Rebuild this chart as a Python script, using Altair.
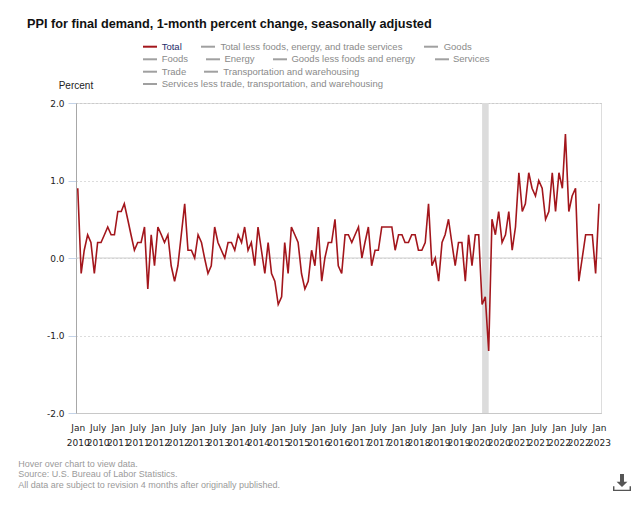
import altair as alt
import pandas as pd

# ---- data -------------------------------------------------------------
years = list(range(2010, 2024))
total_pct = [
    # 2010
    0.9, -0.2, 0.1, 0.3, 0.2, -0.2, 0.2, 0.2, 0.3, 0.4, 0.3, 0.3,
    # 2011
    0.6, 0.6, 0.7, 0.5, 0.3, 0.1, 0.2, 0.2, 0.4, -0.4, 0.3, -0.1,
    # 2012
    0.4, 0.3, 0.2, 0.3, -0.1, -0.3, -0.1, 0.3, 0.7, 0.1, 0.1, 0.0,
    # 2013
    0.3, 0.2, 0.0, -0.2, -0.1, 0.4, 0.2, 0.1, 0.0, 0.2, 0.2, 0.1,
    # 2014
    0.3, 0.2, 0.4, 0.1, 0.2, -0.1, 0.4, 0.1, -0.2, 0.2, -0.2, -0.3,
    # 2015
    -0.6, -0.5, 0.2, -0.2, 0.4, 0.3, 0.2, -0.2, -0.4, -0.3, 0.1, -0.1,
    # 2016
    0.4, -0.3, 0.0, 0.2, 0.2, 0.5, -0.1, -0.2, 0.3, 0.3, 0.2, 0.3,
    # 2017
    0.4, 0.0, 0.2, 0.4, -0.1, 0.1, 0.1, 0.4, 0.4, 0.4, 0.4, 0.1,
    # 2018
    0.3, 0.3, 0.2, 0.2, 0.3, 0.3, 0.1, 0.1, 0.2, 0.7, -0.1, 0.0,
    # 2019
    -0.3, 0.2, 0.3, 0.5, 0.2, -0.1, 0.2, 0.2, -0.3, 0.3, -0.1, 0.3,
    # 2020
    0.3, -0.6, -0.5, -1.2, 0.5, 0.3, 0.6, 0.2, 0.3, 0.6, 0.1, 0.4,
    # 2021
    1.1, 0.6, 0.7, 1.1, 0.9, 0.8, 1.0, 0.9, 0.5, 0.6, 1.1, 0.6,
    # 2022
    1.1, 0.9, 1.6, 0.6, 0.8, 0.9, -0.3, 0.0, 0.3, 0.3, 0.3, -0.2,
    # 2023
    0.7,
]
months = [f"{y}-{m:02d}-01T00:00:00" for y in years for m in range(1, 13)][: len(total_pct)]

recession_start = ["2020-02-01T00:00:00"]
recession_end = ["2020-04-01T00:00:00"]

title_text = "PPI for final demand, 1-month percent change, seasonally adjusted"
legend_labels = [
    "Total",
    "Total less foods, energy, and trade services",
    "Goods",
    "Foods",
    "Energy",
    "Goods less foods and energy",
    "Services",
    "Trade",
    "Transportation and warehousing",
    "Services less trade, transportation, and warehousing",
]
footer_lines = [
    "Hover over chart to view data.",
    "Source: U.S. Bureau of Labor Statistics.",
    "All data are subject to revision 4 months after originally published.",
]
y_ticks = [-2, -1, 0, 1, 2]

# ---- layout (pixel positions, relative to plot area) -------------------
W, H = 525, 310
LEFT, TOP = 68, 95
legend_pos = [  # (line x0, text x, y)
    (67, 85.7, -56.3), (125, 144.4, -56.3), (348, 367.7, -56.3),
    (67, 85.7, -43.7), (130, 148.5, -43.7), (197, 215.4, -43.7), (359, 377, -43.7),
    (67, 85.7, -31.3), (128, 147.3, -31.3),
    (67, 85.7, -19.0),
]

df = pd.DataFrame({"date": months, "value": total_pct})
band = pd.DataFrame({"start": recession_start, "end": recession_end})
one = pd.DataFrame({"k": [0]})

x_scale = alt.Scale(
    domain=[alt.DateTime(year=2009, month=12, date=16), alt.DateTime(year=2023, month=1, date=19)]
)
y_scale = alt.Scale(domain=[-2, 2], nice=False, zero=False)

x_vals = [alt.DateTime(year=y, month=m, date=1) for y in years for m in (1, 7)][:-1]

x_axis = alt.Axis(
    values=x_vals,
    labelExpr="[month(datum.value) == 0 ? 'Jan' : 'July', year(datum.value) + '']",
    labelOverlap=False, labelFlush=False, labelBound=False,
    labelFont="DejaVu Sans", labelFontSize=9, labelColor="#222",
    labelLineHeight=15.5, labelPadding=10, labelAngle=0,
    ticks=False, grid=False, domainColor="#c8c8c8", title=None,
)
y_axis = alt.Axis(
    values=y_ticks,
    labelExpr="(datum.value < 0 ? '-' : '') + format(abs(datum.value), '.1f')",
    labelFont="DejaVu Sans", labelFontSize=9, labelColor="#222", labelPadding=4,
    tickColor="#c4d3e8", tickSize=8, domainColor="#a8a8a8",
    grid=True, gridDash=[1, 3], gridColor="#b8b8b8", title=None,
)

band_layer = alt.Chart(band).mark_rect(color="#dcdcdc").encode(
    x=alt.X("start:T", scale=x_scale, axis=x_axis),
    x2="end:T",
    y=alt.value(0), y2=alt.value(H),
)
zero_layer = alt.Chart(one).mark_rule(color="#cccccc", strokeWidth=1).encode(
    y=alt.datum(0, scale=y_scale, axis=y_axis)
)
line_layer = alt.Chart(df).mark_line(color="#a3161c", strokeWidth=1.6).encode(
    x=alt.X("date:T", scale=x_scale, axis=x_axis),
    y=alt.Y("value:Q", scale=y_scale, axis=y_axis),
)

layers = [band_layer, zero_layer, line_layer]

# title
layers.append(alt.Chart(one).mark_text(
    text=title_text, align="left", baseline="middle", font="Liberation Sans",
    fontSize=12.7, fontWeight="bold", color="#111"
).encode(x=alt.value(-49), y=alt.value(-79)))

# legend
for i, (lab, (lx, tx, ly)) in enumerate(zip(legend_labels, legend_pos)):
    col = "#a3161c" if i == 0 else "#a0a0a0"
    tcol = "#1f2d6b" if i == 0 else "#8a8a8a"
    layers.append(alt.Chart(one).mark_rule(color=col, strokeWidth=2).encode(
        x=alt.value(lx), x2=alt.value(lx + 14), y=alt.value(ly)))
    layers.append(alt.Chart(one).mark_text(
        text=lab, align="left", baseline="middle", font="Liberation Sans",
        fontSize=9.5, color=tcol).encode(x=alt.value(tx), y=alt.value(ly)))

# "Percent"
layers.append(alt.Chart(one).mark_text(
    text="Percent", align="left", baseline="middle", font="Liberation Sans",
    fontSize=10, color="#222").encode(x=alt.value(-17.3), y=alt.value(-17)))

# footer
for j, (txt, fy) in enumerate(zip(footer_lines, [360.5, 371, 382])):
    layers.append(alt.Chart(one).mark_text(
        text=txt, align="left", baseline="middle", font="Liberation Sans",
        fontSize=9, color="#9a9a9a").encode(x=alt.value(-57.7), y=alt.value(fy)))

# download icon
icon_path = ("M -0.22 -1 L 0.22 -1 L 0.22 -0.15 L 0.6 -0.15 L 0 0.45 L -0.6 -0.15 L -0.22 -0.15 Z "
             "M -1 0.35 L -0.84 0.35 L -0.84 0.74 L 0.84 0.74 L 0.84 0.35 L 1 0.35 L 1 0.9 L -1 0.9 Z")
layers.append(alt.Chart(one).mark_point(
    shape=icon_path, filled=True, color="#555555", opacity=1, size=324, strokeWidth=0
).encode(x=alt.value(546), y=alt.value(380)))

chart = alt.layer(*layers).properties(
    width=W, height=H,
    autosize=alt.AutoSizeParams(type="none"),
    padding={"left": LEFT, "top": TOP, "right": 624 - LEFT - W, "bottom": 485 - TOP - H},
).configure_view(stroke=None).configure(background="white")

chart.save("out.html", embed_options={"renderer": "svg", "actions": False})
